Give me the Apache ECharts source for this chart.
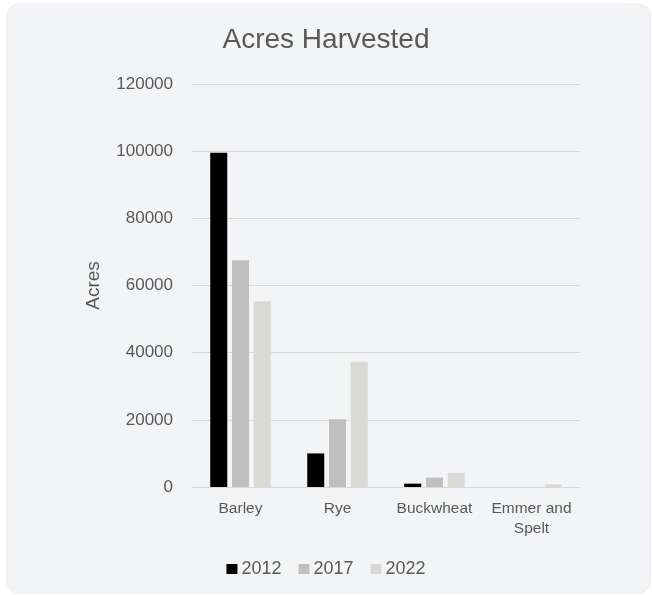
<!DOCTYPE html>
<html>
<head>
<meta charset="utf-8">
<script src="https://cdn.jsdelivr.net/npm/echarts@6/dist/echarts.min.js"></script>
<style>
html,body{margin:0;padding:0;background:#ffffff;}
#chart{width:652px;height:595px;}
</style>
</head>
<body>
<div id="chart"></div>
<script>
const categories = ['Barley', 'Rye', 'Buckwheat', 'Emmer and\nSpelt'];
const years = ['2012', '2017', '2022'];
const values2012 = [99500, 10000, 1000, 0];
const values2017 = [67500, 20200, 2800, 0];
const values2022 = [55300, 37300, 4200, 800];
const yTicks = [0, 20000, 40000, 60000, 80000, 100000, 120000];
const colors = ['#000000', '#bfbfbf', '#d9d9d6'];

const FONT = '"Liberation Sans", Arial, sans-serif';
const chart = echarts.init(document.getElementById('chart'));
const seriesData = [values2012, values2017, values2022];

chart.setOption({
  animation: false,
  backgroundColor: '#ffffff',
  graphic: [{
    type: 'rect', z: -10, silent: true,
    shape: {x: 6.5, y: 4, width: 644, height: 589, r: 12},
    style: {fill: '#f3f4f6', stroke: '#eceef1', lineWidth: 1}
  }],
  title: {
    text: 'Acres Harvested',
    left: 'center', top: 21,
    textStyle: {fontFamily: FONT, fontSize: 28, fontWeight: 'normal', color: '#595959'}
  },
  legend: {
    data: years,
    bottom: 12, left: 'center',
    itemWidth: 11, itemHeight: 10, itemGap: 17,
    icon: 'rect',
    textStyle: {fontFamily: FONT, fontSize: 18, color: '#595959', padding: [0, 0, 0, -1]}
  },
  grid: {left: 192, right: 72, top: 84, bottom: 108, containLabel: false},
  xAxis: {
    type: 'category',
    data: categories,
    axisLine: {lineStyle: {color: '#d9d9d9', width: 1}},
    axisTick: {show: false},
    axisLabel: {fontFamily: FONT, fontSize: 15.5, color: '#595959', margin: 12, lineHeight: 20, interval: 0}
  },
  yAxis: {
    type: 'value',
    min: yTicks[0], max: yTicks[yTicks.length - 1], interval: 20000,
    name: 'Acres', nameLocation: 'middle', nameGap: 89, nameRotate: 90,
    nameTextStyle: {fontFamily: FONT, fontSize: 19, color: '#595959'},
    axisLine: {show: false},
    axisTick: {show: false},
    splitLine: {lineStyle: {color: '#d9d9d9', width: 1}},
    axisLabel: {fontFamily: FONT, fontSize: 17, color: '#595959', margin: 19, formatter: v => String(v)}
  },
  series: years.map((y, i) => ({
    name: y,
    type: 'bar',
    data: seriesData[i],
    barWidth: 17,
    barGap: '28%',
    itemStyle: {color: colors[i]}
  }))
});
</script>
</body>
</html>
